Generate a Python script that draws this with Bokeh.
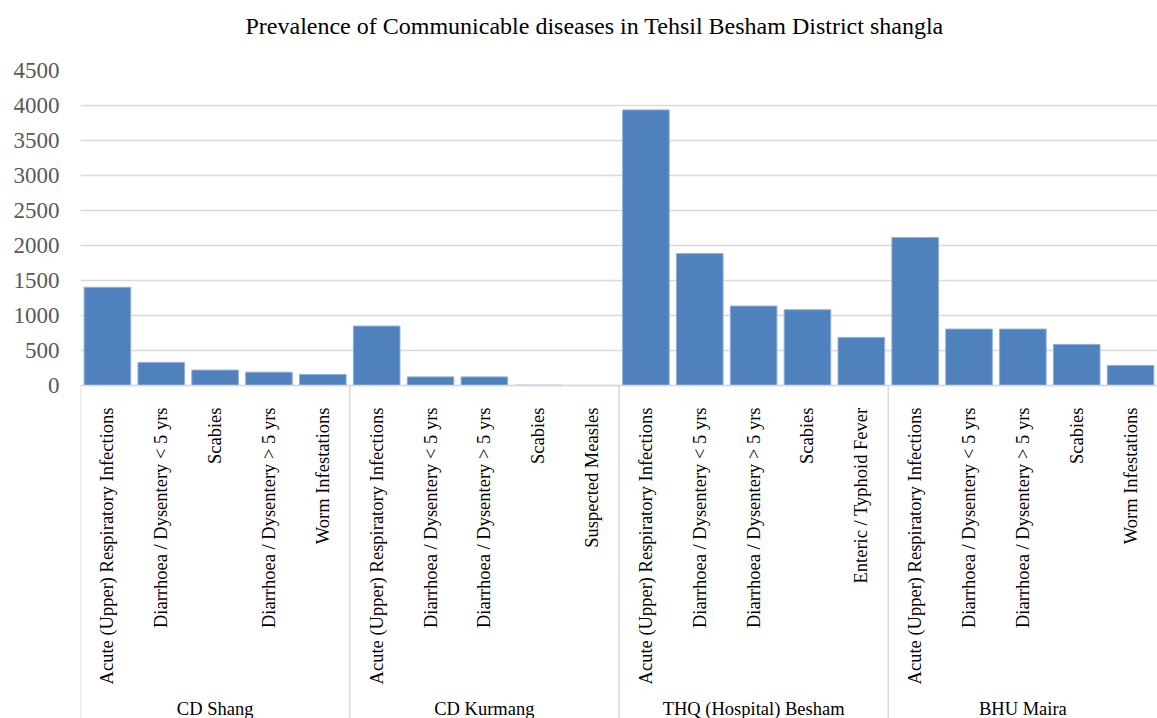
import math
from bokeh.plotting import figure
from bokeh.models import FactorRange, Range1d, FixedTicker, ColumnDataSource, Title
from bokeh.core.properties import value
from bokeh.embed import file_html
from bokeh.resources import INLINE

chart_title = "Prevalence of Communicable diseases in Tehsil Besham District shangla"

groups = ["CD Shang", "CD Kurmang", "THQ (Hospital) Besham", "BHU Maira"]

cd_shang_diseases = ["Acute (Upper) Respiratory Infections", "Diarrhoea / Dysentery < 5 yrs",
                     "Scabies", "Diarrhoea / Dysentery > 5 yrs", "Worm Infestations"]
cd_shang_values = [1403, 330, 220, 190, 158]

cd_kurmang_diseases = ["Acute (Upper) Respiratory Infections", "Diarrhoea / Dysentery < 5 yrs",
                       "Diarrhoea / Dysentery > 5 yrs", "Scabies", "Suspected Measles"]
cd_kurmang_values = [849, 123, 123, 5, 0]

thq_diseases = ["Acute (Upper) Respiratory Infections", "Diarrhoea / Dysentery < 5 yrs",
                "Diarrhoea / Dysentery > 5 yrs", "Scabies", "Enteric / Typhoid Fever"]
thq_values = [3937, 1884, 1135, 1082, 687]

bhu_maira_diseases = ["Acute (Upper) Respiratory Infections", "Diarrhoea / Dysentery < 5 yrs",
                      "Diarrhoea / Dysentery > 5 yrs", "Scabies", "Worm Infestations"]
bhu_maira_values = [2113, 806, 806, 587, 286]

y_ticks = [0, 500, 1000, 1500, 2000, 2500, 3000, 3500, 4000, 4500]

group_diseases = [cd_shang_diseases, cd_kurmang_diseases, thq_diseases, bhu_maira_diseases]
group_values = [cd_shang_values, cd_kurmang_values, thq_values, bhu_maira_values]

factors, values = [], []
for g, ds, vs in zip(groups, group_diseases, group_values):
    for d, v in zip(ds, vs):
        factors.append((g, d))
        values.append(v)

# group boundaries (synthetic categorical coordinates)
bounds = []
acc = 0
for ds in group_diseases:
    bounds.append(acc)
    acc += len(ds)

# frame: value axis occupies the upper part, label area below zero
y_top = 4500
frame_top_px, zero_px, bottom_px = 70, 385, 718
y_bottom = -y_top * (bottom_px - zero_px) / (zero_px - frame_top_px)

FONT = "Liberation Serif"
GRID = "#D9D9D9"
W, H = 1157, 718
LEFT = 80

p = figure(width=W, height=H,
           x_range=FactorRange(*factors, range_padding=0, group_padding=0, factor_padding=0),
           y_range=Range1d(y_bottom, y_top),
           output_backend="svg", toolbar_location=None, tools="",
           min_border_left=LEFT, min_border_right=0, min_border_top=frame_top_px, min_border_bottom=0)

p.outline_line_color = None
p.background_fill_color = "white"
p.border_fill_color = "white"

# spacer between frame and title, then the title itself
p.add_layout(Title(text=" ", text_font_size="2px", standoff=27), "above")
p.title.text = chart_title
p.title.text_font = FONT
p.title.text_font_size = "24px"
p.title.text_font_style = "normal"
p.title.text_color = "#000000"
p.title.align = "left"
p.title.offset = 165
p.title.standoff = 0
p.title.vertical_align = "middle"

src = ColumnDataSource(data=dict(x=factors, top=values))
p.vbar(x="x", top="top", width=0.865, source=src,
       fill_color="#4F81BD", line_color="#8FAEDB", line_width=1)

p.segment(x0=bounds, y0=[0] * len(bounds), x1=bounds, y1=[y_bottom] * len(bounds),
          line_color=GRID, line_width=1.5)

# y axis
p.yaxis.ticker = FixedTicker(ticks=y_ticks)
p.yaxis.axis_line_color = None
p.yaxis.major_tick_line_color = None
p.yaxis.minor_tick_line_color = None
p.yaxis.major_label_standoff = 15
p.yaxis.major_label_text_font = FONT
p.yaxis.major_label_text_font_size = "23px"
p.yaxis.major_label_text_color = "#595959"

p.ygrid.ticker = FixedTicker(ticks=y_ticks)
p.ygrid.grid_line_color = GRID
p.ygrid.grid_line_width = 1.5
p.xgrid.grid_line_color = None

# x axis drawn at value zero (disease labels)
xa = p.xaxis[0]
xa.fixed_location = 0
xa.axis_line_color = GRID
xa.axis_line_width = 1.5
xa.major_tick_line_color = None
xa.minor_tick_line_color = None
xa.major_label_standoff = 16
xa.major_label_orientation = math.pi / 2
xa.major_label_text_font = FONT
xa.major_label_text_font_size = "18.5px"
xa.major_label_text_color = "#000000"
xa.group_text_color = None
xa.separator_line_color = None

# facility (group) labels along the bottom
p.text(x=groups, y=[0] * len(groups), text=groups, y_offset=323,
       text_font=value(FONT), text_font_size="18.5px", text_color="#000000",
       text_align="center", text_baseline="middle")

open("out.html", "w").write(file_html(p, INLINE))
